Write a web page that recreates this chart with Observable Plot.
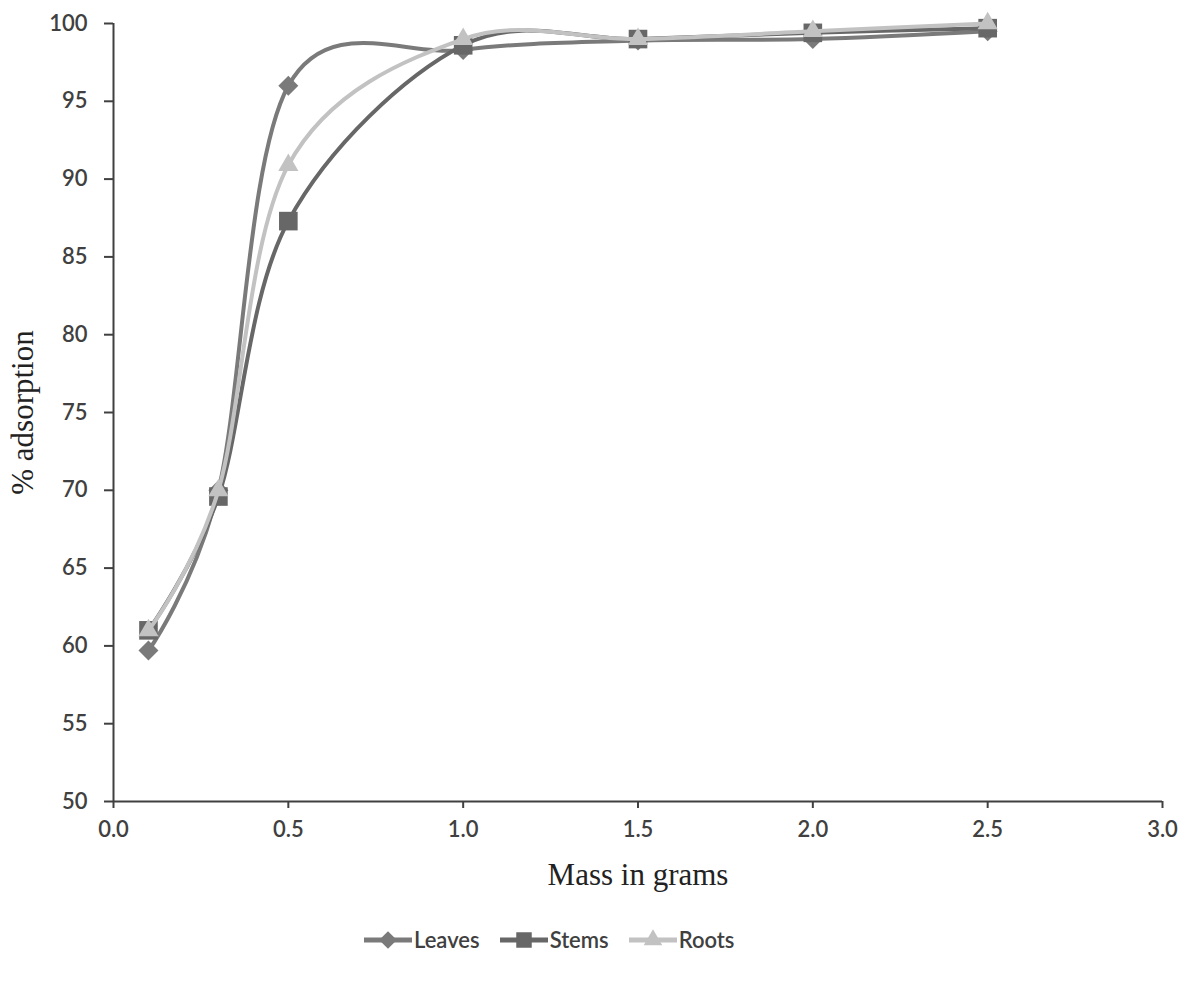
<!DOCTYPE html>
<html>
<head>
<meta charset="utf-8">
<script src="https://cdn.jsdelivr.net/npm/d3@7"></script>
<script src="https://cdn.jsdelivr.net/npm/@observablehq/plot@0.6"></script>
<style>
  html, body { margin: 0; padding: 0; background: #ffffff; }
  #chart { width: 1195px; }
  .legend { display: flex; justify-content: flex-start; align-items: center; gap: 20px; margin-top: 26px; padding-left: 364px;
            font-family: Lato, "Open Sans", sans-serif; font-size: 22px; font-weight: 600; color: #404040; }
  .legend .item { display: flex; align-items: center; gap: 2px; }
</style>
</head>
<body>
<div id="chart"></div>
<script>
const seriesNames = ["Leaves", "Stems", "Roots"];
const seriesColors = ["#7a7a7a", "#676767", "#c2c2c2"];
const seriesSymbols = ["diamond2", "square", "triangle"];
const seriesMarkerR = [9, 10.5, 7.5];
const masses = [0.1, 0.3, 0.5, 1.0, 1.5, 2.0, 2.5];
const leaves = [59.7, 70.0, 96.0, 98.3, 98.9, 99.0, 99.5];
const stems  = [61.0, 69.6, 87.3, 98.6, 99.0, 99.4, 99.7];
const roots  = [61.0, 70.0, 90.9, 99.0, 99.0, 99.5, 100.0];
const xTicks = [0, 0.5, 1.0, 1.5, 2.0, 2.5, 3.0];
const yTicks = [50, 55, 60, 65, 70, 75, 80, 85, 90, 95, 100];
const xLabel = "Mass in grams";
const yLabel = "% adsorption";

const valuesBySeries = {Leaves: leaves, Stems: stems, Roots: roots};
const data = seriesNames.flatMap(s => masses.map((m, i) => ({series: s, mass: m, value: valuesBySeries[s][i]})));

const axisColor = "#404040";
const seriesMarks = seriesNames.flatMap((s, i) => [
  Plot.line(data, {filter: d => d.series === s, x: "mass", y: "value", stroke: "series", strokeWidth: 4, curve: "cardinal"}),
  Plot.dot(data, {filter: d => d.series === s, x: "mass", y: "value", symbol: "series", fill: "series", r: seriesMarkerR[i]})
]);

const chart = Plot.plot({
  width: 1195,
  height: 900,
  marginLeft: 113,
  marginRight: 33,
  marginTop: 23,
  marginBottom: 99,
  style: {fontFamily: "Lato, 'Open Sans', sans-serif", fontSize: "22px", fontWeight: 600, color: axisColor, background: "#ffffff"},
  x: {domain: [0, 3]},
  y: {domain: [50, 100]},
  color: {domain: seriesNames, range: seriesColors},
  symbol: {domain: seriesNames, range: seriesSymbols},
  marks: [
    Plot.axisY({ticks: yTicks, tickSize: 9, tickPadding: 17, tickFormat: d => String(d), label: null, stroke: axisColor, strokeWidth: 2}),
    Plot.axisX({ticks: xTicks, tickSize: 7, tickPadding: 13, tickFormat: d3.format(".1f"), label: null, stroke: axisColor, strokeWidth: 2}),
    Plot.ruleX([0], {stroke: axisColor, strokeWidth: 2}),
    Plot.ruleY([50], {stroke: axisColor, strokeWidth: 2}),
    ...seriesMarks,
    Plot.text([yLabel], {text: d => d, frameAnchor: "left", textAnchor: "middle", dx: -90, rotate: -90, fontFamily: "'Liberation Serif', serif", fontSize: 31, fontWeight: 400, fill: "#222"}),
    Plot.text([xLabel], {text: d => d, frameAnchor: "bottom", textAnchor: "middle", dy: 83, fontFamily: "'Liberation Serif', serif", fontSize: 31, fontWeight: 400, fill: "#222"})
  ]
});
document.getElementById("chart").appendChild(chart);

// legend
const legend = document.createElement("div");
legend.className = "legend";
const symPaths = {
  diamond2: d3.symbol(d3.symbolDiamond2, 200)(),
  square: d3.symbol(d3.symbolSquare, 240)(),
  triangle: d3.symbol(d3.symbolTriangle, 150)()
};
seriesNames.forEach((s, i) => {
  const item = document.createElement("div");
  item.className = "item";
  item.innerHTML = `<svg width="48" height="26"><line x1="0" x2="48" y1="13" y2="13" stroke="${seriesColors[i]}" stroke-width="5"/>` +
    `<path d="${symPaths[seriesSymbols[i]]}" transform="translate(24,13)" fill="${seriesColors[i]}"/></svg><span>${s}</span>`;
  legend.appendChild(item);
});
document.getElementById("chart").appendChild(legend);
</script>
</body>
</html>
